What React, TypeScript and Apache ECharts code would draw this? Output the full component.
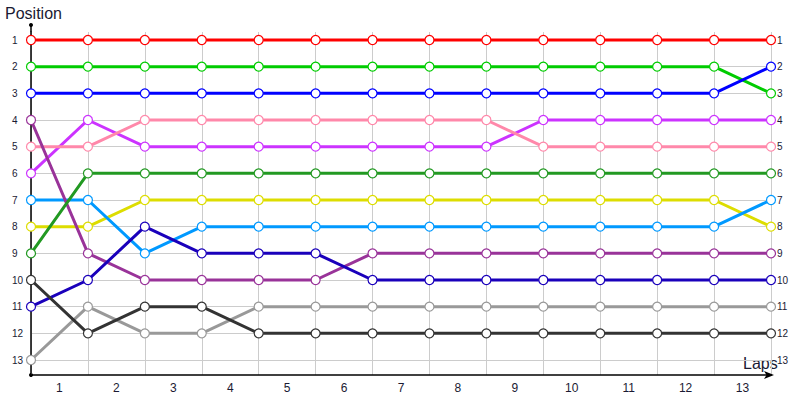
import React, { useRef, useEffect } from 'react'
import * as echarts from 'echarts'

// lap boundaries where positions are recorded (start + end of each lap)
const lapPoints = [0, 1, 2, 3, 4, 5, 6, 7, 8, 9, 10, 11, 12, 13]
const lapLabels = ['1', '2', '3', '4', '5', '6', '7', '8', '9', '10', '11', '12', '13']
const positions = [1, 2, 3, 4, 5, 6, 7, 8, 9, 10, 11, 12, 13]

// position of each driver at every lap point
const redPos = [1, 1, 1, 1, 1, 1, 1, 1, 1, 1, 1, 1, 1, 1]
const greenPos = [2, 2, 2, 2, 2, 2, 2, 2, 2, 2, 2, 2, 2, 3]
const bluePos = [3, 3, 3, 3, 3, 3, 3, 3, 3, 3, 3, 3, 3, 2]
const magentaPos = [6, 4, 5, 5, 5, 5, 5, 5, 5, 4, 4, 4, 4, 4]
const pinkPos = [5, 5, 4, 4, 4, 4, 4, 4, 4, 5, 5, 5, 5, 5]
const yellowPos = [8, 8, 7, 7, 7, 7, 7, 7, 7, 7, 7, 7, 7, 8]
const skyPos = [7, 7, 9, 8, 8, 8, 8, 8, 8, 8, 8, 8, 8, 7]
const plumPos = [4, 9, 10, 10, 10, 10, 9, 9, 9, 9, 9, 9, 9, 9]
const forestPos = [9, 6, 6, 6, 6, 6, 6, 6, 6, 6, 6, 6, 6, 6]
const navyPos = [11, 10, 8, 9, 9, 9, 10, 10, 10, 10, 10, 10, 10, 10]
const greyPos = [13, 11, 12, 12, 11, 11, 11, 11, 11, 11, 11, 11, 11, 11]
const charcoalPos = [10, 12, 11, 11, 12, 12, 12, 12, 12, 12, 12, 12, 12, 12]

const drivers = [
  { name: 'red', color: '#ff0000', pos: redPos },
  { name: 'green', color: '#00cc00', pos: greenPos },
  { name: 'blue', color: '#0000ff', pos: bluePos },
  { name: 'magenta', color: '#cc33ff', pos: magentaPos },
  { name: 'pink', color: '#ff88aa', pos: pinkPos },
  { name: 'yellow', color: '#dddd00', pos: yellowPos },
  { name: 'sky', color: '#0099ff', pos: skyPos },
  { name: 'plum', color: '#993399', pos: plumPos },
  { name: 'forest', color: '#229922', pos: forestPos },
  { name: 'navy', color: '#1a00bb', pos: navyPos },
  { name: 'grey', color: '#999999', pos: greyPos },
  { name: 'charcoal', color: '#333333', pos: charcoalPos },
]

const FONT = '"Liberation Sans", Arial, sans-serif'
const TEXT = '#1a1a33'

const App: React.FC = () => {
  const chartRef = useRef<HTMLDivElement>(null)

  useEffect(() => {
    document.body.style.margin = '0'
    if (!chartRef.current) return
    const chart = echarts.init(chartRef.current, undefined, { renderer: 'svg' })

    const yCommon = {
      type: 'value' as const,
      inverse: true,
      min: 0.7,
      max: 13.5625,
      axisTick: { show: false },
      splitLine: { show: false },
    }

    chart.setOption({
      animation: false,
      backgroundColor: '#ffffff',
      grid: { left: 31, right: 29, top: 32, bottom: 25 },
      xAxis: [
        {
          type: 'value',
          min: 0,
          max: 13,
          interval: 1,
          position: 'bottom',
          axisLine: {
            show: true,
            onZero: false,
            lineStyle: { color: '#000', width: 1.5 },
            symbol: ['none', 'arrow'],
            symbolSize: [6, 10],
            symbolOffset: [0, 3],
          },
          axisTick: { show: false },
          axisLabel: { show: false },
          splitLine: { show: true, lineStyle: { color: '#cccccc', width: 1 } },
        },
        {
          type: 'category',
          data: lapLabels,
          position: 'bottom',
          boundaryGap: true,
          axisLine: { show: false },
          axisTick: { show: false },
          splitLine: { show: false },
          axisLabel: { margin: 7, fontSize: 12, color: TEXT, fontFamily: FONT },
        },
      ],
      yAxis: [
        {
          ...yCommon,
          position: 'left',
          axisLine: { show: true, onZero: false, lineStyle: { color: '#000', width: 1.5 } },
          axisLabel: {
            customValues: positions,
            align: 'left',
            margin: 19,
            fontSize: 10,
            color: TEXT,
            fontFamily: FONT,
          },
        },
        {
          ...yCommon,
          position: 'right',
          axisLine: { show: false },
          axisLabel: {
            customValues: positions,
            margin: 6,
            fontSize: 10,
            color: TEXT,
            fontFamily: FONT,
          },
        },
      ],
      graphic: [
        { type: 'text', left: 5, top: 5, style: { text: 'Position', font: `16px ${FONT}`, fill: TEXT } },
        { type: 'text', left: 743, top: 355, style: { text: 'Laps', font: `16px ${FONT}`, fill: TEXT } },
        { type: 'line', shape: { x1: 31, y1: 25, x2: 31, y2: 32 }, style: { stroke: '#000', lineWidth: 1.5 } },
        { type: 'circle', shape: { cx: 31, cy: 25, r: 2 }, style: { fill: '#000' } },
        { type: 'circle', shape: { cx: 31, cy: 375, r: 2 }, style: { fill: '#000' } },
      ],
      series: [
        {
          type: 'line',
          data: [],
          z: 0,
          silent: true,
          markLine: {
            z: 0,
            silent: true,
            symbol: 'none',
            label: { show: false },
            lineStyle: { color: '#cccccc', width: 1, type: 'solid' },
            data: positions.map(p => ({ yAxis: p })),
          },
        },
        ...drivers.map(d => ({
          name: d.name,
          type: 'line',
          z: 3,
          data: lapPoints.map((lap, i) => [lap, d.pos[i]]),
          symbol: 'circle',
          symbolSize: 9,
          lineStyle: { color: d.color, width: 3 },
          itemStyle: { color: '#ffffff', borderColor: d.color, borderWidth: 1.2 },
          emphasis: { disabled: true },
        })),
      ],
    })

    return () => {
      chart.dispose()
    }
  }, [])

  return <div ref={chartRef} style={{ width: 800, height: 400 }} />
}

export default App
